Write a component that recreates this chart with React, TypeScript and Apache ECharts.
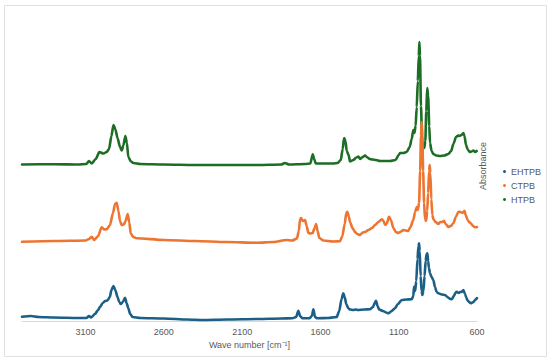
import React, { useEffect, useRef } from "react";
import * as echarts from "echarts";

// Wavenumber [cm-1], plotted absorbance (stacked with offsets as in the figure)
const htpbPoints: [number, number][] = [
  [3506, 156.5], [3300, 156.8], [3150, 156.5], [3095, 157], [3078, 160], [3061, 157.5],
  [3035, 162], [3012, 169], [2986, 167.5], [2965, 169], [2950, 172], [2935, 185],
  [2922, 196], [2910, 192], [2896, 183], [2880, 174], [2869, 170.5], [2858, 176],
  [2846, 185], [2836, 178], [2827, 164], [2810, 159.5], [2795, 158], [2750, 157],
  [2600, 156.5], [2400, 156], [2200, 156], [2000, 156], [1850, 156.5], [1827, 158],
  [1800, 156.5], [1700, 157], [1665, 157.5], [1649, 166.7], [1640, 162], [1630, 157.5],
  [1520, 157.5], [1490, 158], [1470, 161], [1458, 172], [1449, 183], [1440, 180],
  [1432, 170], [1420, 166], [1411, 159.5], [1390, 161], [1370, 163.5], [1358, 164.5],
  [1345, 162], [1330, 164], [1315, 165.5], [1300, 163.5], [1285, 162], [1268, 161.5],
  [1245, 161], [1220, 160], [1190, 160], [1155, 160], [1120, 161], [1100, 166],
  [1092, 168], [1070, 168], [1049, 169], [1030, 174], [1017, 182], [1007, 191],
  [1000, 188], [992, 195], [985, 214], [978, 240], [972, 265], [968, 279], [964, 265],
  [958, 215], [950, 180], [943, 174], [937, 173], [930, 180], [924, 210], [918, 233],
  [912, 225], [905, 195], [900, 178], [890, 170], [879, 167], [860, 165.5], [836, 165],
  [810, 165.5], [783, 167], [765, 170], [751, 177], [734, 184], [720, 185.5], [711, 185],
  [700, 186], [687, 188], [680, 185], [670, 176], [658, 171], [645, 169], [635, 169.5],
  [623, 170.5], [612, 169], [602, 170],
];

const ctpbPoints: [number, number][] = [
  [3506, 79.3], [3300, 80], [3100, 80.5], [3078, 82], [3061, 84.3], [3045, 81], [3020, 85],
  [2997, 93.7], [2980, 91.5], [2965, 91.7], [2944, 96], [2925, 108], [2912, 117],
  [2901, 118.3], [2890, 110], [2880, 100], [2869, 96], [2855, 96.5], [2845, 100],
  [2831, 107], [2820, 98], [2812, 87.7], [2795, 84], [2774, 82.7], [2600, 81], [2400, 80],
  [2200, 79], [2006, 78.3], [1900, 79], [1816, 81], [1780, 80.5], [1750, 82.5], [1738, 90],
  [1730, 102], [1724, 103], [1712, 100], [1698, 101], [1688, 95], [1677, 88], [1665, 87.5],
  [1650, 88], [1637, 93], [1628, 97], [1618, 90], [1607, 83], [1580, 80.5], [1520, 79.5],
  [1475, 79.7], [1460, 85], [1445, 97], [1435, 108], [1428, 109.3], [1418, 104], [1411, 99],
  [1395, 93], [1379, 89], [1365, 87], [1347, 86], [1330, 88.5], [1315, 89], [1294, 91],
  [1270, 93], [1251, 96], [1230, 99], [1208, 101.7], [1197, 100], [1187, 96], [1175, 98],
  [1162, 104.3], [1150, 101], [1134, 93], [1118, 89], [1103, 88], [1085, 89.5], [1071, 91],
  [1055, 90.5], [1040, 90], [1025, 94], [1007, 101], [995, 109], [985, 114], [978, 111],
  [970, 118], [963, 150], [958, 185], [953, 199], [949, 185], [944, 150], [938, 118],
  [932, 102], [925, 100], [918, 110], [912, 128], [906, 150], [902, 156], [898, 148],
  [892, 122], [885, 106], [879, 102], [865, 99], [847, 97], [835, 99], [822, 99],
  [811, 100.3], [800, 97], [783, 94], [768, 95], [751, 97.7], [735, 104], [719, 109.3],
  [705, 109], [692, 108], [680, 110.3], [672, 106], [660, 101], [650, 99], [640, 97.7],
  [625, 95], [613, 93.7], [600, 94],
];

const ehtpbPoints: [number, number][] = [
  [3506, 4.3], [3450, 5], [3400, 4], [3300, 3.5], [3150, 3], [3095, 3], [3078, 5],
  [3065, 3.5], [3040, 7], [3020, 11], [3007, 14.3], [2990, 18], [2975, 20], [2960, 20.5],
  [2945, 24], [2935, 31], [2922, 35], [2910, 31], [2896, 24], [2885, 19], [2875, 17],
  [2862, 19], [2848, 23.3], [2838, 18], [2827, 12.7], [2815, 7], [2800, 4], [2750, 3],
  [2600, 2.5], [2450, 1.5], [2350, 1], [2200, 1.5], [2000, 2], [1850, 2.5], [1780, 2.7],
  [1755, 4], [1741, 10.3], [1730, 5], [1715, 2.8], [1670, 2.8], [1655, 5], [1645, 11.7],
  [1635, 4], [1620, 2.7], [1550, 3], [1510, 3.7], [1496, 4], [1480, 10], [1465, 22],
  [1454, 27.7], [1445, 24], [1435, 17], [1422, 12.7], [1410, 11.5], [1390, 11],
  [1375, 11.5], [1360, 11], [1320, 11.5], [1283, 11.7], [1265, 14], [1250, 19],
  [1245, 20.3], [1235, 15], [1225, 11.5], [1200, 10], [1180, 8.5], [1166, 7.7], [1145, 10],
  [1124, 12.7], [1105, 17], [1081, 21], [1050, 21.5], [1017, 21.7], [1007, 25],
  [1002, 34.3], [995, 30], [988, 40], [980, 62], [974, 75], [970, 77.7], [966, 70],
  [960, 45], [954, 30], [949, 26], [942, 30], [935, 45], [928, 60], [922, 67], [917, 67.7],
  [912, 60], [907, 53], [900, 47.7], [890, 44], [879, 41], [868, 34], [858, 29],
  [847, 27.7], [825, 26.5], [804, 26], [785, 23.5], [770, 22], [761, 21.7], [748, 25],
  [738, 28], [730, 29.3], [718, 28], [708, 29], [699, 29], [687, 31], [677, 27], [670, 24],
  [662, 21], [650, 19], [640, 17.7], [630, 18.5], [622, 19], [613, 21], [605, 22], [600, 23],
];

const legendNames = ["EHTPB", "CTPB", "HTPB"];
const xTickValues = [3100, 2600, 2100, 1600, 1100, 600];
const xMin = 600;
const xMax = 3506;
const xInterval = 500;
const yMin = 0;
const yMax = 316;

const TEXT = "#595959";
const FONT = "'Liberation Sans', Arial, sans-serif";

export default function App() {
  const ref = useRef<HTMLDivElement>(null);
  useEffect(() => {
    if (!ref.current) return;
    const chart = echarts.init(ref.current, undefined, { renderer: "svg" });
    const lineSeries = (name: string, data: [number, number][], color: string) => ({
      name,
      type: "line",
      data,
      showSymbol: false,
      symbol: "circle",
      smooth: 0.25,
      smoothMonotone: "x",
      itemStyle: { color },
      lineStyle: { color, width: 2.6, join: "round", cap: "round" },
      emphasis: { disabled: true },
    });
    chart.setOption({
      animation: false,
      textStyle: { fontFamily: FONT },
      grid: { left: 22, right: 73, top: 5, bottom: 42 },
      xAxis: {
        type: "value",
        inverse: true,
        min: xMin,
        max: xMax,
        interval: xInterval,
        name: "Wave number [cm⁻¹]",
        nameLocation: "middle",
        nameGap: 18,
        nameTextStyle: { color: TEXT, fontSize: 9, fontFamily: FONT },
        axisLine: { show: true, lineStyle: { color: "#d9d9d9", width: 1 } },
        axisTick: { show: false },
        splitLine: { show: false },
        axisLabel: {
          color: TEXT,
          fontSize: 9,
          fontFamily: FONT,
          margin: 6,
          showMaxLabel: false,
          formatter: (v: number) => (xTickValues.includes(v) ? String(v) : ""),
        },
      },
      yAxis: {
        type: "value",
        min: yMin,
        max: yMax,
        show: false,
      },
      legend: {
        data: legendNames,
        orient: "vertical",
        left: 498,
        top: 161,
        icon: "circle",
        itemWidth: 3,
        itemHeight: 3,
        itemGap: 3,
        itemStyle: { borderWidth: 0 },
        lineStyle: { width: 0 },
        textStyle: { color: TEXT, fontSize: 9, fontFamily: FONT, lineHeight: 11 },
        selectedMode: false,
      },
      graphic: [
        {
          type: "rect",
          shape: { x: 4.5, y: 5.5, width: 542, height: 351 },
          style: { fill: "none", stroke: "#e0e0e0", lineWidth: 1 },
          silent: true,
        },
        {
          type: "text",
          x: 483,
          y: 166,
          rotation: Math.PI / 2,
          style: {
            text: "Absorbance",
            fill: TEXT,
            fontSize: 9,
            fontFamily: FONT,
            align: "center",
            verticalAlign: "middle",
          },
          silent: true,
        },
      ],
      series: [
        lineSeries("HTPB", htpbPoints, "#1d6e25"),
        lineSeries("CTPB", ctpbPoints, "#ee7431"),
        lineSeries("EHTPB", ehtpbPoints, "#1b5e86"),
      ],
    });
    return () => chart.dispose();
  }, []);
  return (
    <div
      ref={ref}
      style={{ position: "absolute", left: 0, top: 0, width: 550, height: 363, background: "#fff" }}
    />
  );
}
